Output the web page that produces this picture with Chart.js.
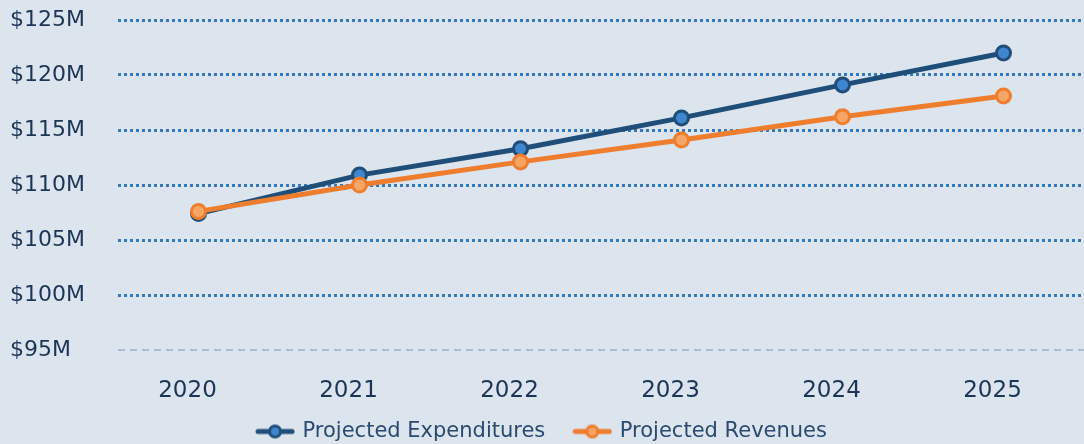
<!DOCTYPE html>
<html>
<head>
<meta charset="utf-8">
<script src="https://cdn.jsdelivr.net/npm/chart.js@4.4.1/dist/chart.umd.min.js"></script>
<style>
    html, body { margin: 0; padding: 0; background: #dce4ed; overflow: hidden; }
    #wrap { width: 1094px; height: 444px; }
</style>
</head>
<body>
<div id="wrap"><canvas id="budgetChart"></canvas></div>
<script>
const years = ['2020', '2021', '2022', '2023', '2024', '2025'];
const expenditures = [107.4, 110.9, 113.3, 116.1, 119.1, 122.0];
const revenues = [107.6, 110.0, 112.1, 114.1, 116.2, 118.1];
const yTicks = [95, 100, 105, 110, 115, 120, 125];

const navy = '#1f4e79';
const orange = '#ef7d2e';
const textColor = '#1c3557';
const legendColor = '#2a4a72';

// legend marker: short thick line with a ringed dot in the middle
function legendIcon(line, fill) {
    const c = document.createElement('canvas');
    c.width = 40;
    c.height = 16;
    const g = c.getContext('2d');
    g.strokeStyle = line;
    g.lineWidth = 5;
    g.lineCap = 'round';
    g.beginPath();
    g.moveTo(3, 8);
    g.lineTo(37, 8);
    g.stroke();
    g.beginPath();
    g.arc(20, 8, 5.5, 0, Math.PI * 2);
    g.fillStyle = fill;
    g.fill();
    g.lineWidth = 3;
    g.stroke();
    return c;
}

// legend padding doubles as the gap between items; keep its box short
// and slide it so the text sits near the bottom edge
const legendPlacer = {
    id: 'legendPlacer',
    afterLayout(c) {
        const l = c.legend;
        if (!l) return;
        l.top = c.height - 53;
        l.bottom = c.height;
        l.left -= 7;
        l.right -= 7;
    }
};

const ctx = document.getElementById('budgetChart').getContext('2d');

const chart = new Chart(ctx, {
    type: 'line',
    data: {
        labels: years,
        datasets: [{
            label: 'Projected Expenditures',
            data: expenditures,
            borderColor: navy,
            backgroundColor: '#3f86cf',
            borderWidth: 5,
            pointRadius: 7,
            pointBorderWidth: 3,
            order: 2
        }, {
            label: 'Projected Revenues',
            data: revenues,
            borderColor: orange,
            backgroundColor: '#f6a565',
            borderWidth: 5,
            pointRadius: 7,
            pointBorderWidth: 3,
            order: 1
        }]
    },
    options: {
        responsive: true,
        maintainAspectRatio: false,
        animation: false,
        layout: {
            padding: { left: 10, right: 5, top: 20, bottom: 0 }
        },
        scales: {
            x: {
                offset: true,
                grid: { display: false },
                border: { display: false },
                afterFit: (scale) => {
                    scale.height = 62;
                },
                ticks: {
                    color: textColor,
                    padding: 19,
                    labelOffset: -11,
                    font: { family: "'DejaVu Sans', sans-serif", size: 23 }
                }
            },
            y: {
                min: 95,
                max: 125,
                afterBuildTicks: (scale) => {
                    scale.ticks = yTicks.map(v => ({ value: v }));
                },
                afterFit: (scale) => {
                    scale.width = 108;
                },
                grid: {
                    drawTicks: false,
                    color: (c) => c.tick && c.tick.value === 95 ? '#a9bed3' : '#327abd',
                    lineWidth: (c) => c.tick && c.tick.value === 95 ? 2 : 3
                },
                border: {
                    display: false,
                    dash: (c) => c.tick && c.tick.value === 95 ? [7, 5] : [3, 3]
                },
                ticks: {
                    color: textColor,
                    crossAlign: 'far',
                    padding: 0,
                    font: { family: "'DejaVu Sans', sans-serif", size: 22 },
                    callback: (v) => '$' + v + 'M'
                }
            }
        },
        plugins: {
            legend: {
                position: 'bottom',
                labels: {
                    color: legendColor,
                    usePointStyle: true,
                    pointStyleWidth: 34,
                    padding: 30,
                    font: { family: "'DejaVu Sans', sans-serif", size: 21 },
                    generateLabels: (c) => c.data.datasets.map((ds, i) => ({
                        text: ds.label,
                        pointStyle: legendIcon(ds.borderColor, ds.backgroundColor),
                        fontColor: legendColor,
                        lineWidth: 0,
                        hidden: false,
                        datasetIndex: i
                    }))
                }
            },
            tooltip: { enabled: false }
        }
    },
    plugins: [legendPlacer]
});

const legendFit = chart.legend.fit;
chart.legend.fit = function () {
    legendFit.call(this);
    this.height = 32;
};
chart.update();
</script>
</body>
</html>
